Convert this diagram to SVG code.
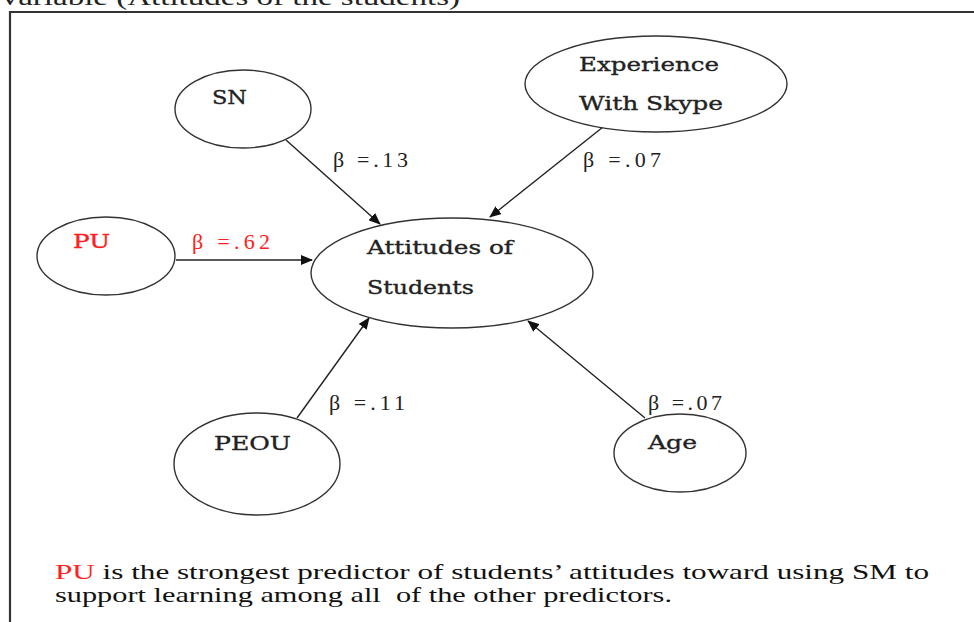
<svg xmlns="http://www.w3.org/2000/svg" width="974" height="622" viewBox="0 0 974 622">
  <defs>
    <marker id="arrow" markerWidth="12" markerHeight="10" refX="11" refY="5" orient="auto" markerUnits="userSpaceOnUse">
      <path d="M0,0 L12,5 L0,10 Z" fill="#111"/>
    </marker>
    <style>
      .node { fill: #fff; stroke: #333; stroke-width: 1.4; }
      .lbl { font-family: "DejaVu Serif", "Liberation Serif", serif; font-size: 19px; fill: #222; stroke: #222; stroke-width: 0.35; }
      .beta { font-family: "Liberation Serif", "DejaVu Serif", serif; font-size: 22px; fill: #222; }
      .red { fill: #ff2020; stroke: #ff2020; }
      .beta.red { stroke: none; }
      .edge { stroke: #222; stroke-width: 1.4; fill: none; marker-end: url(#arrow); }
      .note { font-family: "Liberation Serif", serif; font-size: 21px; fill: #111; }
    </style>
  </defs>

  <rect width="974" height="622" fill="#fff"/>

  <!-- caption line above the frame -->
  <text x="-2" y="4.5" font-family="Liberation Serif, serif" font-size="24" fill="#222" textLength="462" lengthAdjust="spacingAndGlyphs">Variable (Attitudes of the students)</text>

  <!-- frame -->
  <path d="M10,640 L10,12 L990,12" fill="none" stroke="#333" stroke-width="2.2"/>

  <!-- connectors -->
  <g id="connectors">
    <line class="edge" x1="286" y1="140" x2="380" y2="224"/>
    <line class="edge" x1="603" y1="127" x2="490" y2="217"/>
    <line class="edge" x1="176" y1="260" x2="312" y2="260"/>
    <line class="edge" x1="297" y1="418" x2="369" y2="318"/>
    <line class="edge" x1="645" y1="418" x2="528" y2="321"/>
    <text class="beta" x="333" y="167" textLength="75">β =.13</text>
    <text class="beta" x="583" y="167" textLength="78">β =.07</text>
    <text class="beta red" x="192" y="249" textLength="78">β =.62</text>
    <text class="beta" x="329" y="410" textLength="76">β =.11</text>
    <text class="beta" x="648" y="410" textLength="74">β =.07</text>
  </g>

  <g id="node-sn">
    <ellipse class="node" cx="243" cy="109" rx="68" ry="39"/>
    <text class="lbl" x="212" y="104" textLength="35" lengthAdjust="spacingAndGlyphs">SN</text>
  </g>

  <g id="node-experience">
    <ellipse class="node" cx="656" cy="84" rx="131" ry="48"/>
    <text class="lbl" x="579" y="71" textLength="140" lengthAdjust="spacingAndGlyphs">Experience</text>
    <text class="lbl" x="579" y="110" textLength="144" lengthAdjust="spacingAndGlyphs">With Skype</text>
  </g>

  <g id="node-pu">
    <ellipse class="node" cx="106" cy="256" rx="69" ry="39"/>
    <text class="lbl red" x="73" y="248" textLength="37" lengthAdjust="spacingAndGlyphs">PU</text>
  </g>

  <g id="node-attitudes">
    <ellipse class="node" cx="452" cy="273" rx="141" ry="55"/>
    <text class="lbl" x="367" y="254" textLength="146" lengthAdjust="spacingAndGlyphs">Attitudes of</text>
    <text class="lbl" x="367" y="294" textLength="107" lengthAdjust="spacingAndGlyphs">Students</text>
  </g>

  <g id="node-peou">
    <ellipse class="node" cx="257" cy="464" rx="83" ry="51"/>
    <text class="lbl" x="214" y="450" textLength="77" lengthAdjust="spacingAndGlyphs">PEOU</text>
  </g>

  <g id="node-age">
    <ellipse class="node" cx="680" cy="453" rx="66" ry="39"/>
    <text class="lbl" x="648" y="449" textLength="49" lengthAdjust="spacingAndGlyphs">Age</text>
  </g>

  <!-- footnote -->
  <g id="note">
    <text class="note" x="55" y="579" textLength="874" lengthAdjust="spacingAndGlyphs"><tspan fill="#ff2020">PU</tspan> is the strongest predictor of students’ attitudes toward using SM to</text>
    <text class="note" x="55" y="602" textLength="617" lengthAdjust="spacingAndGlyphs">support learning among all&#160; of the other predictors.</text>
  </g>
</svg>
